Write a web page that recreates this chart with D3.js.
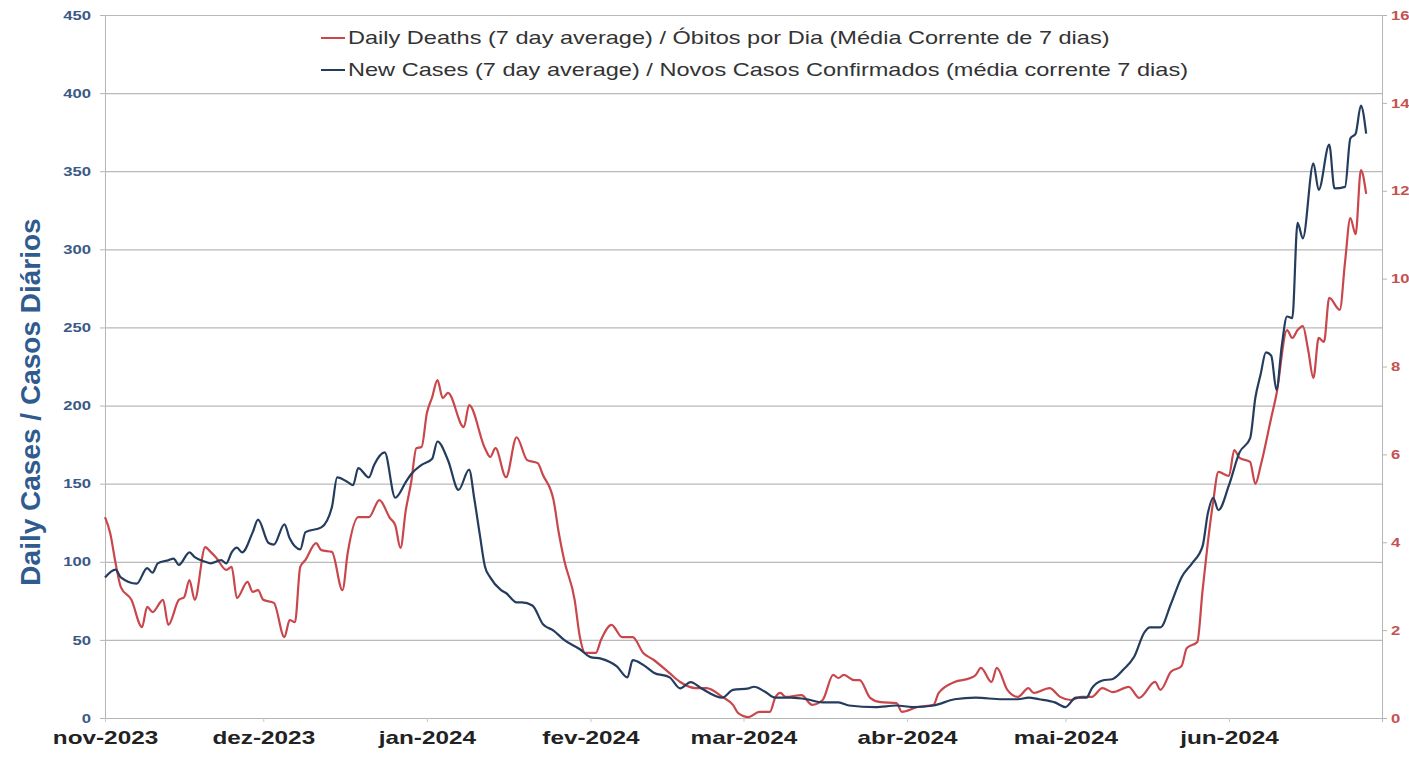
<!DOCTYPE html>
<html>
<head>
<meta charset="utf-8">
<script src="https://cdn.jsdelivr.net/npm/d3@7"></script>
<style>
  body { margin: 0; background: #fff; }
  text { font-family: "Liberation Sans", Arial, sans-serif; }
</style>
</head>
<body>
<div id="chart"></div>
<script>
// day offsets counted from 1 Nov 2023
var startDate = new Date(2023, 10, 1);

var caseDay = [0,2,3,6,8,9,10,12,13,14,16,17,19,20,22,23,24,25,26,28,29,31,32,34,35,37,38,41,43,44,46,47,48,50,51,53,55,57,58,60,62,63,65,67,69,70,71,72,73,75,76,78,79,81,83,85,87,90,92,94,97,99,100,102,104,107,109,111,113,117,119,122,123,125,127,130,133,136,139,141,146,150,153,157,161,165,170,173,175,177,180,182,184,186,187,189,191,193,195,197,198,200,202,204,206,208,209,210,211,213,215,217,218,219,220,221,222,223,224,225,226,227,229,230,232,233,235,236,237,238,239];
var caseValue = [90,95,90,86,96,93,99,101,102,98,106,103,100,99,101,99,106,109,106,119,127,112,111,124,115,108,119,122,135,154,151,149,160,154,162,170,141,151,156,162,166,177,165,146,159,140,118,97,90,82,80,74,74,72,60,56,50,44,39,38,33,26,37,34,29,26,19,23,19,13,18,19,20,17,13,13,12,10,10,8,7,8,7,8,12,13,12,12,13,12,10,7,13,13,19,24,25,31,39,55,58,58,73,90,99,110,131,141,133,149,170,179,205,220,234,232,210,238,257,256,317,307,355,338,367,339,340,371,374,392,374];

var deathDay = [0,1,2,3,5,7,8,9,11,12,14,15,16,17,19,20,21,23,24,25,27,28,29,30,32,34,35,36,37,38,40,41,43,45,46,48,50,52,54,55,56,57,58,59,60,61,62,63,64,65,68,69,72,73,74,76,78,80,82,83,85,86,87,89,90,91,93,94,96,98,100,102,104,107,109,112,114,117,119,120,122,124,126,127,128,129,132,134,136,138,139,140,142,143,145,147,150,151,154,157,158,161,164,165,166,168,169,171,173,175,176,179,181,183,185,187,189,191,194,196,199,200,202,204,205,207,208,209,210,211,213,214,215,217,218,219,221,222,224,225,226,227,228,229,230,231,232,234,235,236,237,238,239];
var deathValue = [4.57,4.2,3.53,2.98,2.69,2.07,2.53,2.41,2.69,2.12,2.69,2.75,3.14,2.69,3.89,3.78,3.66,3.37,3.44,2.73,3.1,2.87,2.91,2.69,2.62,1.84,2.23,2.18,3.44,3.6,3.98,3.82,3.78,2.91,3.76,4.57,4.57,4.96,4.55,4.39,3.87,4.73,5.35,6.14,6.17,6.94,7.3,7.69,7.28,7.4,6.62,7.12,6.14,5.94,6.14,5.48,6.39,5.87,5.8,5.53,4.96,4.21,3.6,2.69,1.84,1.48,1.48,1.78,2.12,1.84,1.84,1.48,1.32,1.02,0.82,0.68,0.68,0.48,0.3,0.11,0.02,0.14,0.14,0.46,0.57,0.48,0.52,0.3,0.41,0.98,0.91,0.98,0.86,0.86,0.46,0.36,0.34,0.14,0.25,0.3,0.57,0.82,0.91,0.98,1.14,0.82,1.14,0.64,0.48,0.68,0.57,0.68,0.48,0.41,0.48,0.48,0.68,0.59,0.71,0.46,0.82,0.64,1.05,1.18,1.59,1.73,2.91,4.0,4.92,5.6,5.51,6.1,5.92,5.83,5.33,5.74,6.83,7.37,8.83,8.65,8.83,8.92,8.38,7.74,8.65,8.56,9.56,9.29,10.38,11.38,11.01,12.47,11.93];

var monthLabels = ["nov-2023","dez-2023","jan-2024","fev-2024","mar-2024","abr-2024","mai-2024","jun-2024"];
var leftTicks = [0,50,100,150,200,250,300,350,400,450];
var rightTicks = [0,2,4,6,8,10,12,14,16];
var seriesNames = ["Daily Deaths (7 day average) / Óbitos por Dia (Média Corrente de 7 dias)",
                   "New Cases (7 day average) / Novos Casos Confirmados (média corrente 7 dias)"];

var width = 1409, height = 757;
var plotLeft = 105, plotRight = 1382, plotTop = 15, plotBottom = 718;
var stretch = 1.28; // the picture's text is a bit wider than normal
var redCol = "#c9464b", blueCol = "#243d5e";

var svg = d3.select("#chart").append("svg")
  .attr("width", width).attr("height", height)
  .style("background", "#fff");

var x = d3.scaleTime()
  .domain([startDate, d3.timeDay.offset(startDate, 242)])
  .range([plotLeft, plotRight]);
var yCases = d3.scaleLinear().domain([0, 450]).range([plotBottom, plotTop]);
var yDeaths = d3.scaleLinear().domain([0, 16]).range([plotBottom, plotTop]);

//gridlines + left axis
var leftAxis = svg.append("g")
  .attr("transform", "translate(" + plotLeft + ",0)")
  .call(d3.axisLeft(yCases).tickValues(leftTicks).tickSize(5).tickPadding(6));
leftAxis.select(".domain").attr("stroke", "#b5b5b5");
leftAxis.selectAll(".tick line").attr("stroke", "#b5b5b5");
leftAxis.selectAll(".tick").append("line")
  .attr("x1", 0).attr("x2", plotRight - plotLeft)
  .attr("stroke", "#b9b9b9").attr("stroke-width", 1.2);
leftAxis.selectAll(".tick text")
  .attr("fill", "#3a5a85")
  .style("font-size", "13px").style("font-weight", "bold")
  .attr("transform", "scale(" + stretch + ",1)");

//right axis
var rightAxis = svg.append("g")
  .attr("transform", "translate(" + plotRight + ",0)")
  .call(d3.axisRight(yDeaths).tickValues(rightTicks).tickSize(5).tickPadding(2));
rightAxis.select(".domain").attr("stroke", "#b5b5b5");
rightAxis.selectAll(".tick line").attr("stroke", "#b5b5b5");
rightAxis.selectAll(".tick text")
  .attr("fill", "#c4524f")
  .style("font-size", "13px").style("font-weight", "bold")
  .attr("transform", "scale(" + stretch + ",1)");

//bottom axis
var monthDates = monthLabels.map(function(m, i){ return new Date(2023, 10 + i, 1); });
var xAxis = svg.append("g")
  .attr("transform", "translate(0," + plotBottom + ")")
  .call(d3.axisBottom(x).tickValues(monthDates).tickSize(4).tickPadding(9)
    .tickFormat(function(d, i){ return monthLabels[i]; }));
xAxis.select(".domain").attr("stroke", "#b5b5b5");
xAxis.selectAll(".tick line").attr("stroke", "#c8c8c8");
xAxis.selectAll(".tick text")
  .attr("fill", "#222")
  .style("font-size", "19px").style("font-weight", "bold")
  .attr("transform", "scale(" + stretch + ",1)");

//y title
svg.append("text")
  .attr("transform", "translate(40,402) rotate(-90)")
  .attr("text-anchor", "middle")
  .attr("fill", "#2f5b8f")
  .style("font-size", "28px").style("font-weight", "bold")
  .text("Daily Cases / Casos Diários");

//lines
var caseData = caseDay.map(function(d, i){ return {date: d3.timeDay.offset(startDate, d), v: caseValue[i]}; });
var deathData = deathDay.map(function(d, i){ return {date: d3.timeDay.offset(startDate, d), v: deathValue[i]}; });

svg.append("path")
  .datum(deathData)
  .attr("fill", "none").attr("stroke", redCol).attr("stroke-width", 2.2)
  .attr("stroke-linejoin", "round")
  .attr("d", d3.line().curve(d3.curveMonotoneX)
    .x(function(d){ return x(d.date); }).y(function(d){ return yDeaths(d.v); }));

svg.append("path")
  .datum(caseData)
  .attr("fill", "none").attr("stroke", blueCol).attr("stroke-width", 2.2)
  .attr("stroke-linejoin", "round")
  .attr("d", d3.line().curve(d3.curveMonotoneX)
    .x(function(d){ return x(d.date); }).y(function(d){ return yCases(d.v); }));

//legend
var legend = svg.append("g").attr("transform", "translate(321,38)");
[redCol, blueCol].forEach(function(c, i){
  var row = legend.append("g").attr("transform", "translate(0," + (i * 32) + ")");
  row.append("line").attr("x1", 0).attr("x2", 24).attr("stroke", c).attr("stroke-width", 2);
  row.append("text")
    .attr("transform", "translate(27,0) scale(" + stretch + ",1)")
    .attr("dy", "0.35em")
    .attr("fill", "#333")
    .style("font-size", "18.4px")
    .text(seriesNames[i]);
});
</script>
</body>
</html>
